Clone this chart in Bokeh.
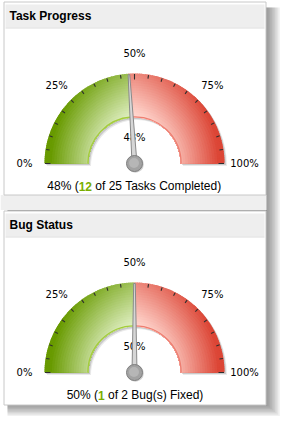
import numpy as np
from bokeh.plotting import figure
from bokeh.models import Range1d
from bokeh.core.properties import value
from bokeh.embed import file_html
from bokeh.resources import INLINE

# ---------------- data ----------------
titles = ["Task Progress", "Bug Status"]
done = [12, 1]
totals = [25, 2]
units = ["Tasks Completed", "Bug(s) Fixed"]
tick_values = [0, 25, 50, 75, 100]
tick_labels = ["0%", "25%", "50%", "75%", "100%"]
minor_ticks = list(range(0, 101, 5))

# ---------------- layout ----------------
W, H = 288, 423
panel_tops = [1, 210]
panel_bottoms = [194, 404]
CX = 134
RO, RI = 90, 46
LABEL_R = 110


def Y(v):
    return H - v


ARIAL = {"0": 556, "1": 556, "2": 556, "3": 556, "4": 556, "5": 556, "6": 556,
         "7": 556, "8": 556, "9": 556, " ": 278, "%": 889, "(": 333, ")": 333,
         "a": 556, "b": 556, "c": 500, "d": 556, "e": 556, "f": 278, "g": 556,
         "i": 222, "k": 500, "l": 222, "m": 833, "n": 556, "o": 556, "p": 556,
         "r": 333, "s": 500, "t": 278, "u": 556, "x": 500, "B": 667, "C": 722,
         "F": 611, "T": 611}


def tw(s, size=12):
    return sum(ARIAL.get(ch, 556) for ch in s) * size / 1000.0


def mix(c1, c2, t):
    r = [int(round(a * (1 - t) + b * t)) for a, b in zip(c1, c2)]
    return "#%02x%02x%02x" % tuple(r)


GREEN_LIGHT, GREEN_DARK = (222, 238, 192), (104, 154, 0)
RED_LIGHT, RED_DARK = (255, 214, 206), (220, 70, 54)

p = figure(width=W, height=H, x_range=Range1d(0, W), y_range=Range1d(0, H),
           output_backend="svg", toolbar_location=None,
           x_axis_location=None, y_axis_location=None, min_border=0)
p.grid.visible = False
p.outline_line_color = None
p.background_fill_color = "white"
p.border_fill_color = "white"

# container shadow
for k in range(1, 10):
    p.quad(left=[7], right=[265 + k * 1.6], top=[Y(7)], bottom=[Y(403 + k * 1.4)],
           fill_color="black", fill_alpha=0.055, line_color=None)
# gap between panels
p.quad(left=[0], right=[266], top=[Y(194.5)], bottom=[Y(209.5)],
       fill_color="#efefef", line_color=None)

for i in range(2):
    top, bot = panel_tops[i], panel_bottoms[i]
    p.quad(left=[3.5], right=[265.5], top=[Y(top + 0.5)], bottom=[Y(bot + 0.5)],
           fill_color="white", line_color="#c8c8c8", line_width=1)
    p.quad(left=[5], right=[264], top=[Y(top + 3)], bottom=[Y(top + 26)],
           fill_color="#eeeeee", line_color=None)
    p.segment(x0=[5], y0=[Y(top + 26.5)], x1=[264], y1=[Y(top + 26.5)],
              line_color="#dcdcdc", line_width=1)
    p.text(x=[9], y=[Y(top + 14)], text=[titles[i]],
           text_font=value("Liberation Sans"), text_font_style="bold",
           text_font_size="12px", text_color="#000000",
           text_align="left", text_baseline="middle")

    cy = Y(top + 162)
    frac = done[i] / totals[i]
    pct = int(round(frac * 100))
    av = np.pi * (1 - frac)

    # band drop shadow
    for off, al in [(2.5, 0.12), (1.5, 0.22)]:
        p.annular_wedge(x=[CX + off], y=[cy - off], inner_radius=RI, outer_radius=RO,
                        start_angle=0, end_angle=np.pi, fill_color="#555555",
                        fill_alpha=al, line_color=None)

    # angular segments: red part (0..av) then green part (av..pi)
    segs = []
    for (a0, a1, light, dark) in [(0.0, av, RED_LIGHT, RED_DARK),
                                  (av, np.pi, GREEN_LIGHT, GREEN_DARK)]:
        span = a1 - a0
        if span <= 0:
            continue
        na = max(1, int(round(span / (np.pi / 150))))
        edges = np.linspace(a0, a1, na + 1)
        for j in range(na):
            segs.append((edges[j], edges[j + 1], light, dark))
    nr = 18
    redges = np.linspace(RI, RO, nr + 1)
    xs, ys, orr, sa, ea, cols = [], [], [], [], [], []
    for k in range(nr - 1, -1, -1):          # ring-major, outer layer first
        rm = 0.5 * (redges[k] + redges[k + 1])
        q = (rm - RI) / (RO - RI)
        for j, (s0, s1, light, dark) in enumerate(segs):
            am = 0.5 * (s0 + s1)
            ext = 0.6 * (s1 - s0) if j < len(segs) - 1 else 0.0
            h = abs(rm * np.cos(am)) / RO
            t = float(np.clip(0.58 * h + 0.58 * q - 0.04, 0, 1))
            xs.append(CX); ys.append(cy)
            orr.append(redges[k + 1])
            sa.append(s0); ea.append(s1 + ext)
            cols.append(mix(light, dark, t))
    p.annular_wedge(x=xs, y=ys, inner_radius=RI, outer_radius=orr,
                    start_angle=sa, end_angle=ea, fill_color=cols,
                    line_color=None)
    # inner rims
    p.arc(x=[CX], y=[cy], radius=RI + 0.6, start_angle=av, end_angle=np.pi,
          line_color="#a4cc3c", line_width=1.3)
    p.arc(x=[CX], y=[cy], radius=RI + 0.6, start_angle=0, end_angle=av,
          line_color="#ee7f72", line_width=1.3)

    # ticks
    tx0, ty0, tx1, ty1 = [], [], [], []
    for v in minor_ticks:
        th = np.pi * (1 - v / 100)
        ln = 6 if v in (0, 50, 100) else 4
        tx0.append(CX + (RO - 0.5) * np.cos(th)); ty0.append(cy + (RO - 0.5) * np.sin(th))
        tx1.append(CX + (RO - ln) * np.cos(th)); ty1.append(cy + (RO - ln) * np.sin(th))
    p.segment(x0=tx0, y0=ty0, x1=tx1, y1=ty1, line_color="#2e2e2e", line_width=1.1)

    # tick labels
    lx = [CX + LABEL_R * np.cos(np.pi * (1 - v / 100)) for v in tick_values]
    ly = [cy + LABEL_R * np.sin(np.pi * (1 - v / 100)) for v in tick_values]
    p.text(x=lx, y=ly, text=tick_labels, text_font=value("DejaVu Sans"),
           text_font_size="10px", text_color="#000000",
           text_align="center", text_baseline="middle")

    # value label
    p.text(x=[CX], y=[cy + 26], text=[f"{pct}%"], text_font=value("DejaVu Sans"),
           text_font_size="10px", text_color="#000000",
           text_align="center", text_baseline="middle")

    # needle
    L, hw0, hw1 = 89, 2.5, 0.8
    ux, uy = np.cos(av), np.sin(av)
    nx, ny = -uy, ux
    px = [CX + nx * hw0, CX + ux * L + nx * hw1, CX + ux * L - nx * hw1, CX - nx * hw0]
    py = [cy + ny * hw0, cy + uy * L + ny * hw1, cy + uy * L - ny * hw1, cy - ny * hw0]
    p.patch(x=px, y=py, fill_color="#d6d6d6", line_color="#8a8a8a", line_width=1)

    # pivot
    p.circle(x=[CX + 0.8], y=[cy - 0.8], radius=8.5, fill_color="#777777",
             fill_alpha=0.35, line_color=None)
    p.circle(x=[CX], y=[cy], radius=8, fill_color="#a2a2a2", line_color="#7e7e7e",
             line_width=1)
    p.circle(x=[CX - 0.5], y=[cy + 0.5], radius=5, fill_color="#b6b6b6", line_color=None)

    # caption
    pre = f"{pct}% ("
    num = str(done[i])
    post = f"of {totals[i]} {units[i]})"
    total_w = tw(pre) + tw(num) + tw(" ") + tw(post)
    x0 = CX + 0.5 - total_w / 2
    capy = Y(top + 184.5)
    common = dict(text_font=value("Liberation Sans"), text_font_size="12px",
                  text_align="left", text_baseline="middle")
    p.text(x=[x0], y=[capy], text=[pre], text_color="#000000", **common)
    p.text(x=[x0 + tw(pre)], y=[capy], text=[num], text_color="#7aae00",
           text_font_style="bold", **common)
    p.text(x=[x0 + tw(pre) + tw(num) + tw(" ")], y=[capy], text=[post],
           text_color="#000000", **common)

open("out.html", "w").write(file_html(p, INLINE))
